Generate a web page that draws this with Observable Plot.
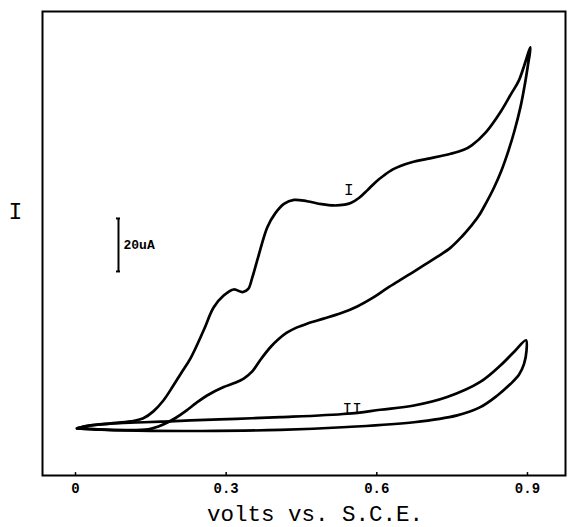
<!DOCTYPE html>
<html><head><meta charset="utf-8">
<script src="https://cdn.jsdelivr.net/npm/d3@7"></script>
<script src="https://cdn.jsdelivr.net/npm/@observablehq/plot@0.6"></script>
<style>
html,body{margin:0;padding:0;background:#fff;}
</style></head><body><div id="chart"></div>
<script>
// Axis / text content
const xTicks = [0, 0.3, 0.6, 0.9];
const xTickLabels = ["0", "0.3", "0.6", "0.9"];
const xLabel = "volts vs. S.C.E.";
const yLabel = "I";

// Curve I (volts, µA relative to baseline)
const loopIForward = [[0.003,0.8],[0.03,1.9],[0.068,2.6],[0.11,3.4],[0.135,4.6],[0.155,7.2],[0.175,11.3],[0.19,15.5],[0.21,21.5],[0.229,27.2],[0.255,37.7],[0.275,46.4],[0.295,50.9],[0.315,53.2],[0.333,52.2],[0.344,53.4],[0.352,57.7],[0.364,65.6],[0.382,76.7],[0.398,82],[0.415,85.5],[0.435,87.0],[0.461,86.5],[0.490,85.4],[0.514,84.9],[0.536,85.2],[0.548,85.8],[0.565,87.8],[0.581,90.6],[0.598,93.8],[0.614,96.2],[0.631,98.4],[0.647,99.8],[0.673,101.4],[0.700,102.5],[0.747,104.4],[0.773,105.9],[0.789,107.6],[0.817,112.5],[0.846,120.1],[0.868,127.2],[0.883,132.1],[0.906,144.6]];
const loopIReverse = [[0.906,144.6],[0.901,138],[0.896,132],[0.886,122],[0.874,113],[0.862,105.5],[0.848,98],[0.833,91.5],[0.818,86],[0.803,81],[0.787,77],[0.770,73.3],[0.747,69],[0.720,65.5],[0.694,62.4],[0.670,59.5],[0.647,56.8],[0.620,53.6],[0.594,50.3],[0.561,46.8],[0.528,44.2],[0.494,42.2],[0.461,40.3],[0.440,38.8],[0.420,36.8],[0.404,34.4],[0.388,31.4],[0.368,26.6],[0.352,22.3],[0.335,19.6],[0.315,17.8],[0.295,16.4],[0.262,13.2],[0.240,10.3],[0.22,7.4],[0.2,4.8],[0.183,3.0],[0.165,1.5],[0.145,0.4],[0.1,0.1],[0.05,0.3],[0.003,0.8]];

// Curve II
const loopIIForward = [[0.003,0.8],[0.03,1.9],[0.07,2.6],[0.12,3.0],[0.17,3.3],[0.229,3.8],[0.32,4.4],[0.408,5.0],[0.541,6.3],[0.607,7.8],[0.674,9.4],[0.74,12.6],[0.806,18.3],[0.846,24.5],[0.875,30],[0.897,34]];
const loopIIReverse = [[0.897,34],[0.898,30],[0.893,25],[0.883,21],[0.866,17.5],[0.84,13.2],[0.806,8.8],[0.76,5.7],[0.674,3.1],[0.541,1.3],[0.408,0.2],[0.25,-0.2],[0.1,0.0],[0.003,0.8]];

// Curve labels and scale bar
const curveNames = ["I", "II"];
const curveLabelV = [0.544, 0.551];
const curveLabelI = [90.6, 8.3];
const scaleBarV = 0.0856;
const scaleBarRange = [60, 80];
const scaleBarText = "20uA";

const rows = [];
const addLoop = (name, fwd, rev) => {
  fwd.concat(rev.slice(1)).forEach(([v, i]) => rows.push({loop: name, v, i}));
};
addLoop("I", loopIForward, loopIReverse);
addLoop("II", loopIIForward, loopIIReverse);

const labels = curveNames.map((n, k) => ({name: n, v: curveLabelV[k], i: curveLabelI[k]}));

const mono = "'Liberation Mono', 'Courier New', monospace";

const chart = Plot.plot({
  width: 569,
  height: 527,
  marginLeft: 42,
  marginRight: 4,
  marginTop: 11,
  marginBottom: 52,
  x: {domain: [-0.0657, 0.9757]},
  y: {domain: [-17, 158.1], axis: null},
  style: {fontFamily: mono, color: "#000", background: "#fff"},
  marks: [
    Plot.frame({stroke: "#000", strokeWidth: 2}),
    Plot.axisX({ticks: xTicks, tickFormat: d => xTickLabels[xTicks.indexOf(d)], tickSize: 0, tickPadding: 8, fontSize: 14, fontWeight: "bold", label: null}),
    Plot.ruleX(xTicks, {x: d => d, y1: -17, y2: -15.9, stroke: "#000", strokeWidth: 1.5}),
    Plot.line(rows, {x: "v", y: "i", z: "loop", curve: "catmull-rom", stroke: "#000", strokeWidth: 2.7, strokeLinejoin: "round", strokeLinecap: "round"}),
    Plot.text(labels, {x: "v", y: "i", text: "name", fontSize: 16, fill: "#000"}),
    Plot.ruleX([scaleBarV], {x: d => d, y1: scaleBarRange[0], y2: scaleBarRange[1], stroke: "#000", strokeWidth: 2}),
    Plot.ruleY(scaleBarRange, {y: d => d, x1: scaleBarV - 0.004, x2: scaleBarV + 0.004, stroke: "#000", strokeWidth: 2}),
    Plot.text([scaleBarText], {x: scaleBarV, y: (scaleBarRange[0] + scaleBarRange[1]) / 2, text: d => d, textAnchor: "start", dx: 5, fontSize: 13, fontWeight: "bold", fill: "#000"}),
    Plot.text([yLabel], {frameAnchor: "left", y: 82.6, text: d => d, textAnchor: "middle", dx: -27, fontSize: 23, fill: "#000"}),
    Plot.text([xLabel], {frameAnchor: "bottom", text: d => d, textAnchor: "middle", lineAnchor: "middle", dx: 11, dy: 38, fontSize: 22.5, fill: "#000"})
  ]
});
document.getElementById("chart").appendChild(chart);
</script>
</body></html>
